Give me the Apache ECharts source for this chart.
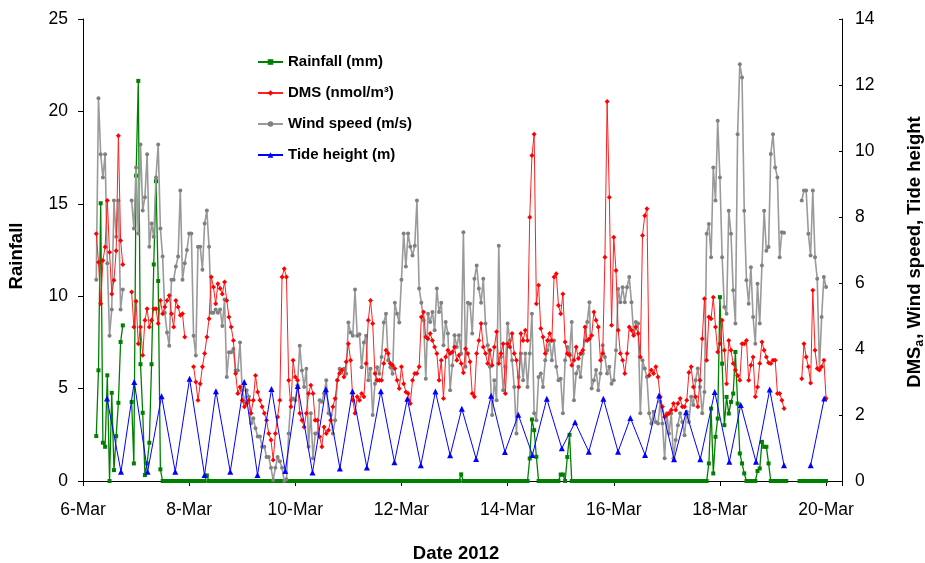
<!DOCTYPE html>
<html><head><meta charset="utf-8">
<script src="https://cdn.jsdelivr.net/npm/echarts@6/dist/echarts.min.js"></script>
<style>html,body{margin:0;padding:0;background:#fff}#chart{width:925px;height:563px}</style>
</head><body><div id="chart"></div>
<script>
// ---- x axis (days of March 2012) ----
const xTickDays = [6, 8, 10, 12, 14, 16, 18, 20];
const xTickLabels = ['6-Mar', '8-Mar', '10-Mar', '12-Mar', '14-Mar', '16-Mar', '18-Mar', '20-Mar'];

// hourly series start at 6-Mar 06:00 (hour 6), one value per hour, null = no data
const FIRST_HOUR = 6;

// Rainfall (mm), left axis
const rainfall = [
  2.43, 5.99, 15.03, 2.07, 1.85, 5.72, 0, 4.77, 0.59, 2.43, 4.23, 7.52, 8.42,
  null, null, null,
  4.28, 0.95, 16.52, 21.65, 6.32, 3.69, 0.32, 0.95, 2.07, 6.32, 11.72, 16.22, 10.82, 0.63, 0,
  0,0,0,0,0,0,0,0,0,0,0,
  0,0,0,0,0,0,0,0,0.3,0,0,0,0,0,0,0,0,0,0,0,0,0,0,0,
  0,0,0,0,0,0,0,0,0,0,0,0,0,0,0,0,0,0,0,0,0,0,0,0,
  0,0,0,0,0,0,0,0,0,0,0,0,0,0,0,0,0,0,0,0,0,0,0,0,
  0,0,0,0,0,0,0,0,0,0,0,0,0,0,0,0,0,0,0,0,0,0,0,0,
  0,0,0,0,0,0,0,0,0,0,0,0,0,0,0,0,0,0,0,0,0,0,0,0,
  0,0,0,0.36,0,0,0,0,0,0,0,0,0,0,0,0,0,0,0,0,0,0,0,0,
  0,0,0,0,0,0,0,0,0,0,1.22,3.33,2.75,1.31,0,0,0,0,0,0,0,0,0,0,
  0.35,0.35,0,1.3,2.5,0,0,0,0,0,0,0,0,0,0,0,0,0,0,0,0,0,0,0,
  0,0,0,0,0,0,0,0,0,0,0,0,0,0,0,0,0,0,0,0,0,0,0,0,
  0,0,0,0,0,0,0,0,0,0,0,0,0,0,0,0,0,0,0,0.95,3.92,0.41,2.39,3.38,
  9.95,6.35,3.02,4.55,3.65,4.28,4.73,6.98,4.19,1.49,0.95,0.41,0,0,0,0,0,0.54,0.68,2.12,1.85,1.85,0.95,0,
  0,0,0,0,0,0,0,null,null,null,null,null,0,0,0,0,0,0,0,0,0,0,0,0,
  0
];

// DMS (nmol/m3), right axis
const dms = [
  7.49, 6.63, 5.37, 6.68, 7.09, 8.5, 6.93, 5.67, 6.08, 6.98, 10.46, 7.29, 6.56,
  null, null, null,
  5.73, 4.67, 5.45, 4.16, 4.67, 3.81, 4.87, 5.22, 4.67, 4.87, 5.22, 5.22, 4.77, 5.47, 5.07, 5.27, 5.47, 5.62, 5.07, 4.67, 5.47, 5.27, 5.02, 5.07, 4.36,
  null, null, null,
  3.46, 3.0, 2.45, 2.95, 3.46, 3.86, 4.36, 4.92, 6.18, 5.88, 5.37, 5.98, 5.83, 5.67, 6.03, 5.47, 4.97, 4.67, 4.26, 3.26, 2.65, 2.85, 2.45, 2.25,
  2.35, 2.45, 2.05, 2.45, 3.2, 2.7, 2.45, 2.25, 2.05, 1.84, 1.44, 1.24, 0.64, 1.44, 1.94, 2.45, 6.18, 6.43, 6.18, 3.05, 2.25, 3.66, 3.15, 3.05,
  2.05, 1.84, 1.64, 2.05, 2.65, 2.9, 2.65, 1.84, 1.84, 1.34, 1.04, 1.64, 1.44, 1.54, 1.84, 2.25, 2.5, 3.05, 3.26, 3.36, 3.15, 3.61, 4.16, 3.66,
  2.45, 2.05, 2.55, 2.45, 2.65, 2.55, 3.56, 4.87, 5.47, 4.77, 3.26, 3.05, 3.05, 3.05, 3.56, 3.96, 3.86, 3.56, 3.51, 3.41, 3.05, 2.8, 3.46, 2.95, 2.7, 2.65, 2.35,
  3.05, 3.26, 3.26, 3.46, 4.97, 5.12, 4.36, 4.31, 4.47, 4.26, 4.06, 3.86, 3.05, 3.66, 2.5, 3.76, 3.96, 3.86, 3.91, 4.06, 3.66, 3.81, 3.56, 3.28,
  4.01, 3.86, 3.61, 2.65, 2.55, 3.86, 4.26, 4.77, 4.06, 3.86, 3.56, 3.96, 3.51, 4.06, 4.52, 3.56, 3.86, 4.16, 2.65, 4.16, 4.06, 4.47, 3.86, 3.66,
  2.85, 4.47, 4.26, 4.57, 4.26,
  7.99, 9.86, 10.51, 5.37, 5.93, 4.62, 4.36, 3.86, 4.26, 4.47, 4.26, 6.18, 6.28, 5.32, 5.07, 5.67, 4.21, 3.86, 3.81, 3.51, 3.66, 4.06, 3.71, 3.86,
  3.96, 4.67, 4.26, 4.31, 4.41, 5.12, 4.87, 4.67, 3.66, 3.86, 6.78, 11.5, 8.6, 4.72, 7.39, 6.38, 4.57, 3.86, 3.66, 3.26, 3.86, 4.67, 4.57, 4.41,
  4.67, 4.47, 3.76,
  7.44, 8.04, 8.25, 3.2, 3.36, 3.26, 3.46, 3.15, 2.55, 2.25, 1.94, 2.0, 2.05, 2.15, 2.35, 2.15, 2.35, 2.5, 2.25, 2.25, 2.45, 3.29, 3.46, 2.85,
  2.55, 2.25, 3.05, 4.31, 5.52, 3.66, 4.97, 4.92, 5.57, 4.67, 3.91, 4.16, 4.87, 3.96, 2.95, 4.26, 3.96, 3.56, 3.36, 3.2, 3.05, 4.16, 4.16, 4.26,
  3.05, 3.51, 3.76, 2.55, 2.85, 3.56, 4.21, 3.96, 3.76, 3.58, 3.56, 3.66, 3.66, 2.65, 2.65, 2.45, 2.2,
  null, null, null, null, null, null, null,
  3.1, 4.16, 3.76, 3.46, 2.97, 5.78, 3.96, 3.41, 3.36, 3.46, 3.66, 2.5
];

// Wind speed (m/s), right axis
const windSpeed = [
  6.1, 11.6, 9.9, 9.2, 9.9, 6.6, 4.4, 5.2, 8.5, 7.4, 8.5, 5.2, 5.8,
  null, null, null,
  8.5, 7.65, 9.5, 7.5, 10.2, 8.2, 8.6, 9.9, 7.1, 7.8, 7.4, 9.2, 10.2, 7.65, 6.8, 5.1, 4.5, 4.1, 6.1, 6.1, 6.5, 6.8, 8.8, 6.1, 6.6, 7.0, 7.5,
  7.5, 4.4, 3.8, 7.1, 7.1, 6.4, 7.8, 8.2, 7.1, 5.1, 5.1, 5.2, 5.1, 5.2, 4.7, 5.5, 3.15, 3.9, 3.9, 4.0, 3.35, 3.35, 4.2, 2.75,
  2.4, 2.75, 2.55, 1.75, 1.9, 1.6, 1.35, 1.35, 1.04, 1.04, 0.73, 0.73, 0.4, 0.03, 0.4, 0.73, 0.6, 0.4, 0.0, 0.05, 1.44, 2.45, 2.5, 2.45, 2.9,
  4.1, 3.35, 2.85, 3.4, 1.04, 2.05, 0.69, 1.44, 1.44, 2.45, 2.4, 2.65, 3.05, 2.05, 2.0, 1.44, 1.84, 3.05, 3.4, 3.35, 3.4, 3.25, 4.8, 4.5,
  4.4, 5.8, 4.4, 4.45, 3.45, 4.2, 4.4, 3.05, 3.4, 2.0, 2.95, 3.45, 3.25, 3.76, 4.8, 5.07, 3.66, 3.45, 3.25, 5.4, 5.07, 4.8, 6.1, 7.5, 6.5, 7.5, 7.1,
  6.83, 7.13, 8.5, 5.83, 5.4, 4.87, 3.1, 5.07, 4.82, 5.12, 4.57, 5.83, 5.12, 5.4, 4.11, 4.82, 4.47, 2.75, 3.5, 4.42, 4.06, 4.42, 3.86, 7.54,
  3.46, 5.4, 5.37, 4.47, 6.13, 6.53, 5.83, 5.4, 6.13, 4.77, 4.11, 3.46, 2.0, 3.05, 2.45, 7.13, 3.76, 2.75, 3.46, 4.77,
  4.26, 3.66, 2.85, 1.44, 3.15, 3.86, 3.05, 3.86, 2.85, 3.86, 5.07, 2.05, 1.84, 3.15, 3.26, 2.85, 3.66, 3.96, 4.26, 3.66, 4.26, 3.46, 3.05, 3.1,
  2.05, 3.66, 4.06, 3.86, 4.82, 2.45, 3.26, 3.46, 3.15, 3.86, 4.26, 4.82, 5.42, 2.8, 3.05, 3.36, 2.75, 3.26, 4.11, 3.76, 3.26, 3.46, 2.95, 3.05,
  3.96, 5.82, 5.42, 5.87, 5.42, 5.87, 6.18, 5.42,
  4.47, 4.82, 4.77, 2.05, 3.66, 3.41, 3.15, 2.05, 1.74, 2.1, 1.79, 1.74, 2.4, 1.74, 0.69, 2.05, 1.44, 2.05, 0.69, 1.24, 1.69, 2.05, 1.79, 1.39,
  2.1, 1.79, 2.55, 2.3, 3.05, 3.41, 2.85, 2.05, 2.7,
  7.49, 7.79, 6.78, 9.5, 8.5, 10.92, 9.2, 6.78, 5.27, 5.07, 8.19, 7.49, 5.78, 4.77, 10.51, 12.63, 12.23, 8.19, 6.08, 5.37, 6.48, 4.97, 4.16, 5.98,
  4.77, 6.53, 8.19, 6.98, 7.09, 9.91, 10.51, 9.5, 9.2, 6.78, 7.54, 7.52,
  null, null, null, null, null, null, null,
  8.5, 8.8, 8.8, 7.49, 6.83, 8.8, 6.78, 6.13, 3.41, 4.97, 6.18, 5.88
];

// Tide height (m), right axis: turning points (day of March, height)
const tideTime = [6.452, 6.716, 6.966, 7.217, 7.480, 7.738, 8.008, 8.290, 8.505, 8.774, 9.038, 9.288, 9.552, 9.810,
  10.045, 10.324, 10.576, 10.840, 11.077, 11.348, 11.612, 11.868, 12.111, 12.365, 12.640, 12.917, 13.137, 13.407,
  13.689, 13.949, 14.201, 14.467, 14.738, 15.021, 15.271, 15.529, 15.804, 16.081, 16.313, 16.590, 16.853, 17.136,
  17.362, 17.631, 17.902, 18.177, 18.392, 18.680, 18.938, 19.207, 19.45, 19.710, 19.966];
const tideHeight = [2.50, 0.28, 3.00, 0.28, 2.57, 0.28, 3.10, 0.18, 2.72, 0.28, 3.00, 0.18, 2.79, 0.30,
  2.88, 0.26, 2.78, 0.38, 2.72, 0.41, 2.72, 0.57, 2.49, 0.48, 2.71, 0.78, 2.19, 0.67,
  2.58, 0.88, 2.01, 0.79, 2.49, 0.99, 1.78, 0.89, 2.49, 0.89, 1.91, 0.79, 2.59, 0.66,
  2.08, 0.66, 2.70, 0.58, 2.30, 0.58, 2.77, 0.48, null, 0.48, 2.50];

const seriesNames = ['Rainfall (mm)', 'DMS (nmol/m³)', 'Wind speed (m/s)', 'Tide height (m)'];

const FONT = "'Liberation Sans', Arial, sans-serif";
const hourly = arr => arr.map((v, i) => [6 + (FIRST_HOUR + i) / 24, v === null ? '-' : v]);
const paired = (t, v) => t.map((x, i) => [x, v[i] === null ? '-' : v[i]]);

const chart = echarts.init(document.getElementById('chart'), null, {renderer: 'canvas'});
chart.setOption({
  animation: false,
  backgroundColor: '#ffffff',
  grid: {left: 83, right: 83, top: 19, bottom: 82, containLabel: false},
  legend: {
    orient: 'vertical', left: 252, top: 49, itemWidth: 25, itemHeight: 7, itemGap: 15,
    data: seriesNames,
    textStyle: {fontFamily: FONT, fontSize: 15, fontWeight: 'bold', color: '#000', lineHeight: 16}
  },
  xAxis: {
    type: 'value', min: 6, max: 20.3, interval: 2,
    axisLine: {show: true, onZero: false, lineStyle: {color: '#000', width: 1}},
    axisTick: {show: true, length: 5, lineStyle: {color: '#000'}},
    axisLabel: {
      margin: 20, color: '#000', fontFamily: FONT, fontSize: 17.5,
      formatter: v => { const k = xTickDays.indexOf(Math.round(v * 1000) / 1000); return k >= 0 ? xTickLabels[k] : ''; }
    },
    splitLine: {show: false}
  },
  yAxis: [
    {
      type: 'value', min: 0, max: 25, interval: 5, position: 'left',
      axisLine: {show: true, lineStyle: {color: '#000', width: 1}},
      axisTick: {show: true, length: 5, lineStyle: {color: '#000'}},
      axisLabel: {margin: 15, color: '#000', fontFamily: FONT, fontSize: 17.5},
      splitLine: {show: false}
    },
    {
      type: 'value', min: 0, max: 14, interval: 2, position: 'right',
      axisLine: {show: true, lineStyle: {color: '#000', width: 1}},
      axisTick: {show: true, inside: true, length: 3, lineStyle: {color: '#000'}},
      axisLabel: {margin: 13, color: '#000', fontFamily: FONT, fontSize: 17.5},
      splitLine: {show: false}
    }
  ],
  graphic: [
    {type: 'text', x: 17, y: 256, rotation: Math.PI / 2,
      style: {text: 'Rainfall', fill: '#000', font: "bold 18.5px 'Liberation Sans', Arial, sans-serif", textAlign: 'center', textVerticalAlign: 'middle'}},
    {type: 'text', x: 456, y: 554,
      style: {text: 'Date 2012', fill: '#000', font: "bold 18.5px 'Liberation Sans', Arial, sans-serif", textAlign: 'center', textVerticalAlign: 'middle'}},
    {type: 'text', x: 915, y: 252, rotation: Math.PI / 2,
      style: {text: 'DMS{s|a}, Wind speed, Tide height', fill: '#000', fontFamily: FONT, fontSize: 18.5, fontWeight: 'bold',
        align: 'center', verticalAlign: 'middle', textAlign: 'center', textVerticalAlign: 'middle',
        rich: {s: {fontFamily: FONT, fontSize: 12, fontWeight: 'bold', fill: '#000', padding: [9, 1, 0, 0]}}}}
  ],
  series: [
    {
      name: seriesNames[0], type: 'line', yAxisIndex: 0, data: hourly(rainfall),
      symbol: 'rect', symbolSize: 4, showAllSymbol: true, connectNulls: false,
      itemStyle: {color: '#008000'}, lineStyle: {color: '#008000', width: 1.3}, z: 2
    },
    {
      name: seriesNames[2], type: 'line', yAxisIndex: 1, data: hourly(windSpeed),
      symbol: 'circle', symbolSize: 4, showAllSymbol: true, connectNulls: false,
      itemStyle: {color: '#808080'}, lineStyle: {color: '#9a9a9a', width: 1.6}, z: 3
    },
    {
      name: seriesNames[1], type: 'line', yAxisIndex: 1, data: hourly(dms),
      symbol: 'diamond', symbolSize: 5, showAllSymbol: true, connectNulls: false,
      itemStyle: {color: '#ff0000'}, lineStyle: {color: '#ff2020', width: 1}, z: 4
    },
    {
      name: seriesNames[3], type: 'line', yAxisIndex: 1, data: paired(tideTime, tideHeight),
      symbol: 'triangle', symbolSize: 6, showAllSymbol: true, connectNulls: false,
      itemStyle: {color: '#0000ff'}, lineStyle: {color: '#0000ff', width: 1}, z: 5
    }
  ]
});
</script>
</body></html>
